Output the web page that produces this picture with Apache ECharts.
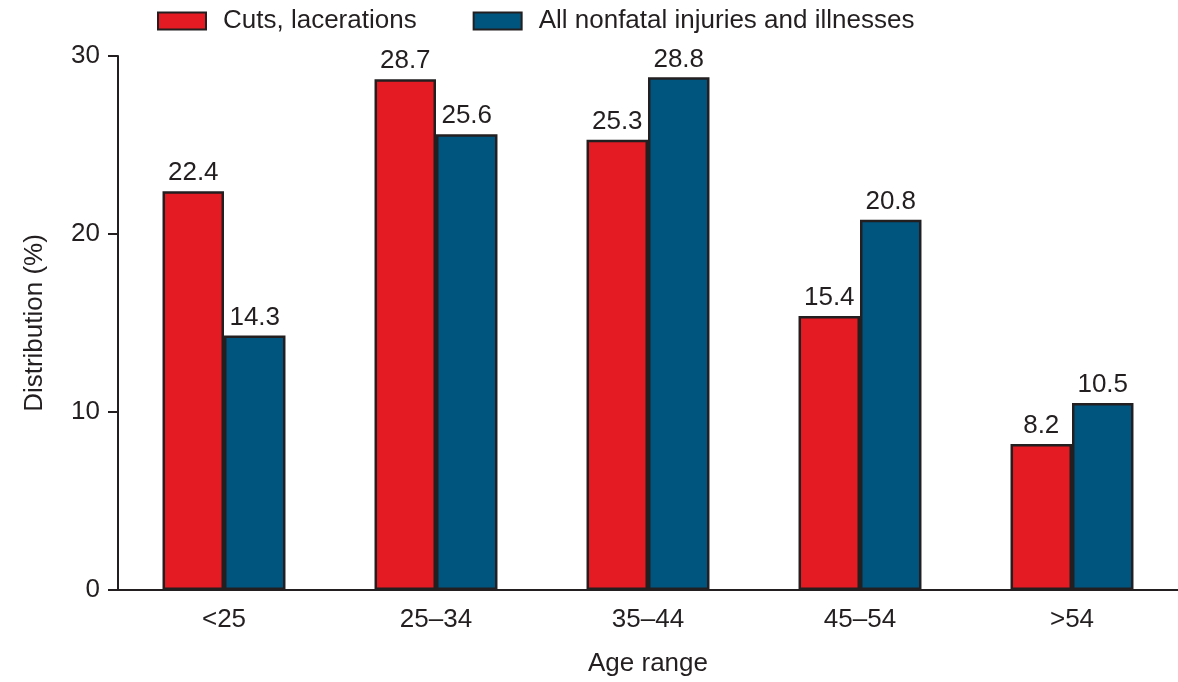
<!DOCTYPE html>
<html>
<head>
<meta charset="utf-8">
<script src="https://cdn.jsdelivr.net/npm/echarts@6/dist/echarts.min.js"></script>
<style>html,body{margin:0;padding:0;background:#fff;}#c{width:1178px;height:682px;}</style>
</head>
<body>
<div id="c"></div>
<script>
const categories = ['<25', '25\u201334', '35\u201344', '45\u201354', '>54'];
const cutsLacerations = [22.4, 28.7, 25.3, 15.4, 8.2];
const allNonfatal = [14.3, 25.6, 28.8, 20.8, 10.5];
const seriesNames = ['Cuts, lacerations', 'All nonfatal injuries and illnesses'];

const FONT = '"Liberation Sans", Arial, Helvetica, sans-serif';
const INK = '#231f20';
const FS = 26;
const chart = echarts.init(document.getElementById('c'), null, {renderer: 'canvas'});
const labelCfg = {show: true, position: 'top', distance: 5, color: INK, fontSize: FS, fontFamily: FONT};
chart.setOption({
  animation: false,
  backgroundColor: '#fff',
  textStyle: {fontFamily: FONT},
  legend: {
    top: 3, left: 152, itemWidth: 48, itemHeight: 17, itemGap: 56,
    textStyle: {fontSize: FS, color: INK, fontFamily: FONT, padding: [0, 0, 0, 12]},
    data: seriesNames.map(n => ({name: n, icon: 'rect'}))
  },
  grid: {left: 118, right: 0, top: 56, bottom: 88, containLabel: false},
  xAxis: {
    type: 'category', data: categories,
    axisLine: {lineStyle: {color: INK, width: 2}},
    axisTick: {show: false},
    axisLabel: {color: INK, fontSize: FS, fontFamily: FONT, margin: 17},
    name: 'Age range', nameLocation: 'middle', nameGap: 61,
    nameTextStyle: {color: INK, fontSize: FS, fontFamily: FONT}
  },
  yAxis: {
    type: 'value', min: 0, max: 30, interval: 10,
    axisLine: {show: true, lineStyle: {color: INK, width: 2}},
    axisTick: {show: true, length: 10, lineStyle: {color: INK, width: 2}},
    splitLine: {show: false},
    axisLabel: {color: INK, fontSize: FS, fontFamily: FONT, margin: 18},
    name: 'Distribution (%)', nameLocation: 'middle', nameGap: 70,
    nameTextStyle: {color: INK, fontSize: FS, fontFamily: FONT}
  },
  series: [
    {name: seriesNames[0], type: 'bar', data: cutsLacerations, barGap: '0%', barCategoryGap: '42%',
     itemStyle: {color: '#E41B23', borderColor: INK, borderWidth: 2.5}, label: labelCfg},
    {name: seriesNames[1], type: 'bar', data: allNonfatal, barGap: '0%', barCategoryGap: '42%',
     itemStyle: {color: '#00557F', borderColor: INK, borderWidth: 2.5}, label: labelCfg}
  ]
});
</script>
</body>
</html>
